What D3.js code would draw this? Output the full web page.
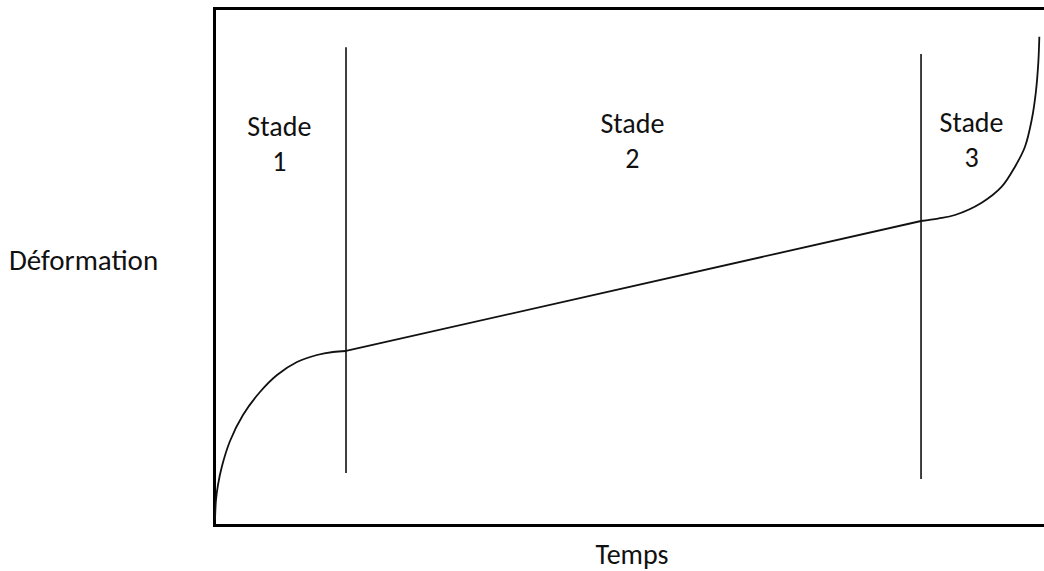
<!DOCTYPE html>
<html>
<head>
<meta charset="utf-8">
<script src="https://cdn.jsdelivr.net/npm/d3@7"></script>
<style>
  html, body { margin: 0; padding: 0; background: #fff; }
  svg text { font-family: Carlito, Calibri, Lato, sans-serif; fill: #111; }
</style>
</head>
<body>
<svg id="chart" width="1044" height="571"></svg>
<script>
// Stage 1 (primary creep) curve points: time, strain
const stage1Time   = [0, 0.12, 0.36, 0.85, 1.82, 3.39, 5.45, 7.52, 9.94, 12.36, 14.30, 15.88];
const stage1Strain = [0, 4.12, 7.22, 11.13, 16.29, 21.65, 26.39, 29.9, 32.58, 34.02, 34.64, 34.85];
// Stage 2 (secondary creep) straight line
const stage2Time   = [15.88, 85.58];
const stage2Strain = [34.85, 61.65];
// Stage 3 (tertiary creep) curve
const stage3Time   = [85.58, 87.64, 89.7, 92.93, 95.36, 96.97, 98.18, 98.99, 99.48, 99.79, 99.92];
const stage3Strain = [61.65, 62.16, 62.89, 65.42, 68.72, 72.85, 76.97, 82.47, 87.98, 94.16, 99.65];
// Stage boundaries (vertical lines)
const boundaryTime = [15.88, 85.58];
const boundaryLow  = [9.7, 8.45];
const boundaryHigh = [97.5, 96.1];
// Labels
const stageLabels = ["Stade\n1", "Stade\n2", "Stade\n3"];
const stageLabelTime = [7.8, 50.6, 91.7];
const xLabel = "Temps";
const yLabel = "Déformation";

const svg = d3.select("#chart");
const x = d3.scaleLinear().domain([0, 100]).range([215, 1040]);
const y = d3.scaleLinear().domain([0, 100]).range([520, 35]);

// frame: left, top, bottom
const frameLeft = 214.5, frameTop = 8.5, frameBottom = 525.5, frameRight = 1044;
svg.append("path")
  .attr("d", `M${frameRight},${frameTop}H${frameLeft}V${frameBottom}H${frameRight}`)
  .attr("fill", "none").attr("stroke", "#000").attr("stroke-width", 3);

// boundaries
svg.selectAll(".bound").data(boundaryTime).join("line")
  .attr("class", "bound")
  .attr("x1", d => x(d)).attr("x2", d => x(d))
  .attr("y1", (d, i) => y(boundaryHigh[i])).attr("y2", (d, i) => y(boundaryLow[i]))
  .attr("stroke", "#000").attr("stroke-width", 1.5);

const seg = (t, s) => t.map((v, i) => [v, s[i]]);
const curve = d3.line().x(d => x(d[0])).y(d => y(d[1])).curve(d3.curveCatmullRom.alpha(0.5));
const straight = d3.line().x(d => x(d[0])).y(d => y(d[1]));

svg.append("path").attr("d", curve(seg(stage1Time, stage1Strain)))
  .attr("fill", "none").attr("stroke", "#111").attr("stroke-width", 1.8);
svg.append("path").attr("d", straight(seg(stage2Time, stage2Strain)))
  .attr("fill", "none").attr("stroke", "#111").attr("stroke-width", 1.8);
svg.append("path").attr("d", curve(seg(stage3Time, stage3Strain)))
  .attr("fill", "none").attr("stroke", "#111").attr("stroke-width", 1.8);

// stage labels
const fs = 28;
const labelBaseY = [136, 133, 132];
stageLabels.forEach((lab, i) => {
  const t = svg.append("text").attr("text-anchor", "middle")
    .attr("x", x(stageLabelTime[i])).attr("y", labelBaseY[i])
    .attr("font-size", fs);
  lab.split("\n").forEach((ln, j) => {
    t.append("tspan").attr("x", x(stageLabelTime[i])).attr("dy", j === 0 ? 0 : 35).text(ln);
  });
});

svg.append("text").attr("x", 9).attr("y", 270).attr("font-size", 29).text(yLabel);
svg.append("text").attr("x", 632).attr("y", 564).attr("text-anchor", "middle").attr("font-size", fs).text(xLabel);
</script>
</body>
</html>
